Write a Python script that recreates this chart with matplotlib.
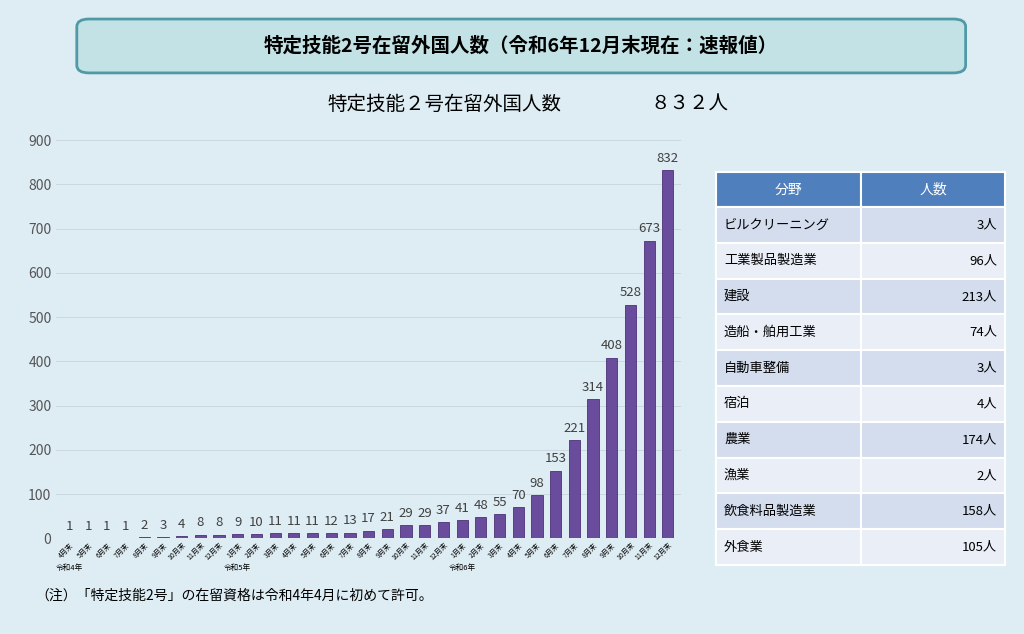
import matplotlib.pyplot as plt
from matplotlib.patches import FancyBboxPatch, Rectangle

plt.rcParams['font.family'] = 'Noto Sans CJK JP'

months = ['4月末', '5月末', '6月末', '7月末', '8月末', '9月末', '10月末', '11月末', '12月末'] \
    + [f'{m}月末' for m in range(1, 13)] * 2
values = [1, 1, 1, 1, 2, 3, 4, 8, 8, 9, 10, 11, 11, 11, 12, 13, 17, 21, 29, 29, 37,
          41, 48, 55, 70, 98, 153, 221, 314, 408, 528, 673, 832]
fields = ['ビルクリーニング', '工業製品製造業', '建設', '造船・舶用工業', '自動車整備',
          '宿泊', '農業', '漁業', '飲食料品製造業', '外食業']
counts = [3, 96, 213, 74, 3, 4, 174, 2, 158, 105]

bg = '#deedf4'
fig = plt.figure(figsize=(10.24, 6.34), dpi=100)
fig.patch.set_facecolor(bg)

# title box
fig.patches.append(FancyBboxPatch((0.075, 0.885), 0.868, 0.085, transform=fig.transFigure,
                                  boxstyle='round,pad=0,rounding_size=0.012',
                                  facecolor='#c2e2e6', edgecolor='#4f9aa6', linewidth=2))
fig.text(0.509, 0.927, '特定技能2号在留外国人数（令和6年12月末現在：速報値）',
         ha='center', va='center', fontsize=14, fontweight='bold')
fig.text(0.32, 0.835, '特定技能２号在留外国人数', ha='left', va='center', fontsize=14)
fig.text(0.635, 0.835, '８３２人', ha='left', va='center', fontsize=14)

ax = fig.add_axes([0.055, 0.151, 0.61, 0.628])
ax.set_facecolor(bg)
x = range(len(values))
ax.bar(x, values, width=0.6, color='#6a4c9c', edgecolor='#4b3275', linewidth=0.6)
for i, v in zip(x, values):
    ax.text(i, v + 12, str(v), ha='center', va='bottom', fontsize=9.5, color='#404040')
ax.set_ylim(0, 900)
ax.set_xlim(-0.7, len(values) - 0.3)
ax.set_yticks(range(0, 901, 100))
ax.tick_params(axis='y', length=0, labelsize=10, labelcolor='#555555')
ax.set_xticks(list(x))
ax.set_xticklabels(months, rotation=45, fontsize=5, ha='right', rotation_mode='anchor')
ax.tick_params(axis='x', length=0, pad=2)
ax.yaxis.grid(True, color='#c8d4dc', linewidth=0.6)
ax.set_axisbelow(True)
for s in ax.spines.values():
    s.set_visible(False)
for xi, lab in [(0, '令和4年'), (9, '令和5年'), (21, '令和6年')]:
    ax.text(xi, -58, lab, ha='center', va='top', fontsize=5.5)

fig.text(0.035, 0.06, '（注）「特定技能2号」の在留資格は令和4年4月に初めて許可。', fontsize=10, va='center')

# table
W, H = 1024, 634
tx0, tx1, tx2 = 716, 861, 1005
ty = 172
hh, rh = 35, 35.8
def rect(x0, y0, w, h, fc):
    fig.patches.append(Rectangle((x0 / W, 1 - (y0 + h) / H), w / W, h / H,
                                 transform=fig.transFigure, facecolor=fc,
                                 edgecolor='white', linewidth=1.5))
rect(tx0, ty, tx1 - tx0, hh, '#4f7fbd')
rect(tx1, ty, tx2 - tx1, hh, '#4f7fbd')
fig.text((tx0 + tx1) / 2 / W, 1 - (ty + hh / 2) / H, '分野', color='white',
         ha='center', va='center', fontsize=10)
fig.text((tx1 + tx2) / 2 / W, 1 - (ty + hh / 2) / H, '人数', color='white',
         ha='center', va='center', fontsize=10)
for i, (f, c) in enumerate(zip(fields, counts)):
    y0 = ty + hh + i * rh
    fc = '#d3ddee' if i % 2 == 0 else '#eaeff7'
    rect(tx0, y0, tx1 - tx0, rh, fc)
    rect(tx1, y0, tx2 - tx1, rh, fc)
    yc = 1 - (y0 + rh / 2) / H
    fig.text((tx0 + 8) / W, yc, f, ha='left', va='center', fontsize=9.5)
    fig.text((tx2 - 8) / W, yc, f'{c}人', ha='right', va='center', fontsize=9.5)

fig.savefig('out.png', dpi=100, facecolor=bg)
